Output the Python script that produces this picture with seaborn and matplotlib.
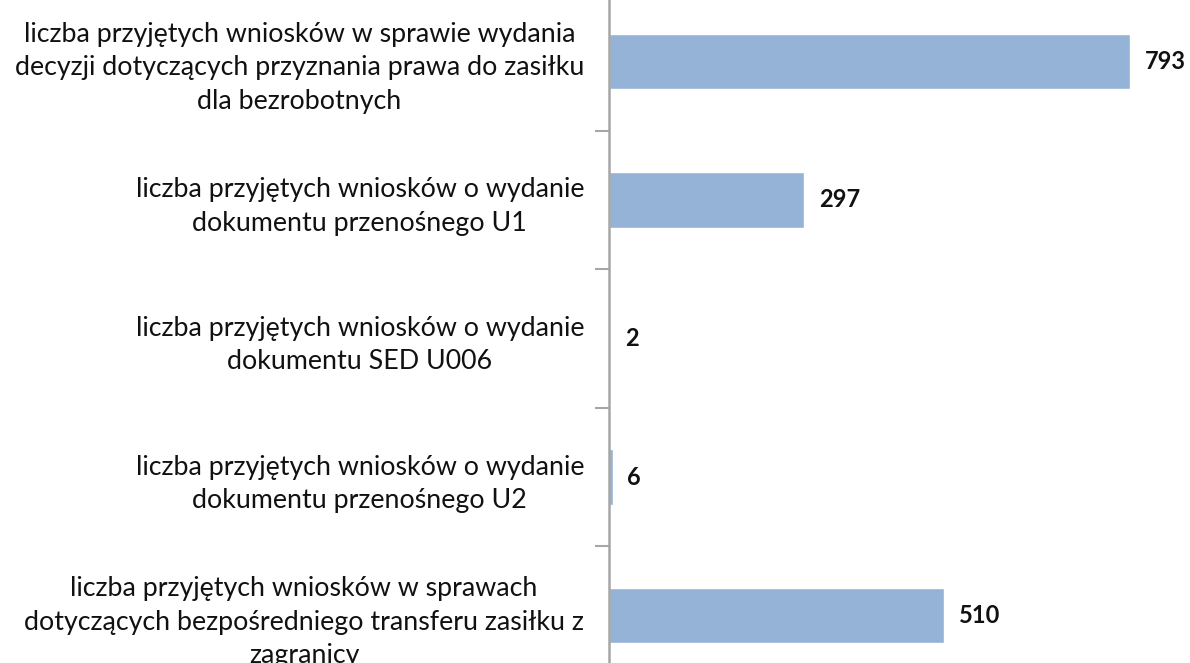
import numpy as np
import pandas as pd
import matplotlib
matplotlib.use('Agg')
import matplotlib.pyplot as plt
import seaborn as sns

categories = [
    'liczba przyjętych wniosków w sprawie wydania\ndecyzji dotyczących przyznania prawa do zasiłku\ndla bezrobotnych',
    'liczba przyjętych wniosków o wydanie\ndokumentu przenośnego U1',
    'liczba przyjętych wniosków o wydanie\ndokumentu SED U006',
    'liczba przyjętych wniosków o wydanie\ndokumentu przenośnego U2',
    'liczba przyjętych wniosków w sprawach\ndotyczących bezpośredniego transferu zasiłku z\nzagranicy',
]
values = [793, 297, 2, 6, 510]

data = pd.DataFrame({'kategoria': categories, 'liczba': values})

sns.set_style('white')
plt.rcParams['font.family'] = ['Lato', 'DejaVu Sans']

fig = plt.figure(figsize=(11.9, 6.63), dpi=100)
# axes deliberately runs slightly past the figure edges, as in the original
ax = fig.add_axes([609 / 1190, -22 / 663, 581 / 1190, 693 / 663])

sns.barplot(data=data, x='liczba', y='kategoria', color='#95B3D7',
            width=0.4, saturation=1, ax=ax)

ax.set_xlim(0, 884)
ax.set_xlabel('')
ax.set_ylabel('')
ax.set_xticks([])

for side in ['top', 'right', 'bottom']:
    ax.spines[side].set_visible(False)
ax.spines['left'].set_color('#A6A6A6')
ax.spines['left'].set_linewidth(1.8)

# ticks sit between categories
ax.set_yticks(np.arange(len(categories) - 1) + 0.5, minor=True)
ax.tick_params(axis='y', which='minor', left=True, length=10, width=1.5,
               color='#A6A6A6', direction='out')
ax.tick_params(axis='y', which='major', length=0, pad=18)
for lab in ax.get_yticklabels():
    lab.set_fontsize(19.3)
    lab.set_multialignment('center')
    lab.set_linespacing(1.42)
    lab.set_color('#111111')

for i, v in enumerate(values):
    ax.text(v + 22, i, str(v), va='center', ha='left', fontsize=17,
            fontweight='bold', color='#111111')

fig.savefig('out.png', dpi=100)
